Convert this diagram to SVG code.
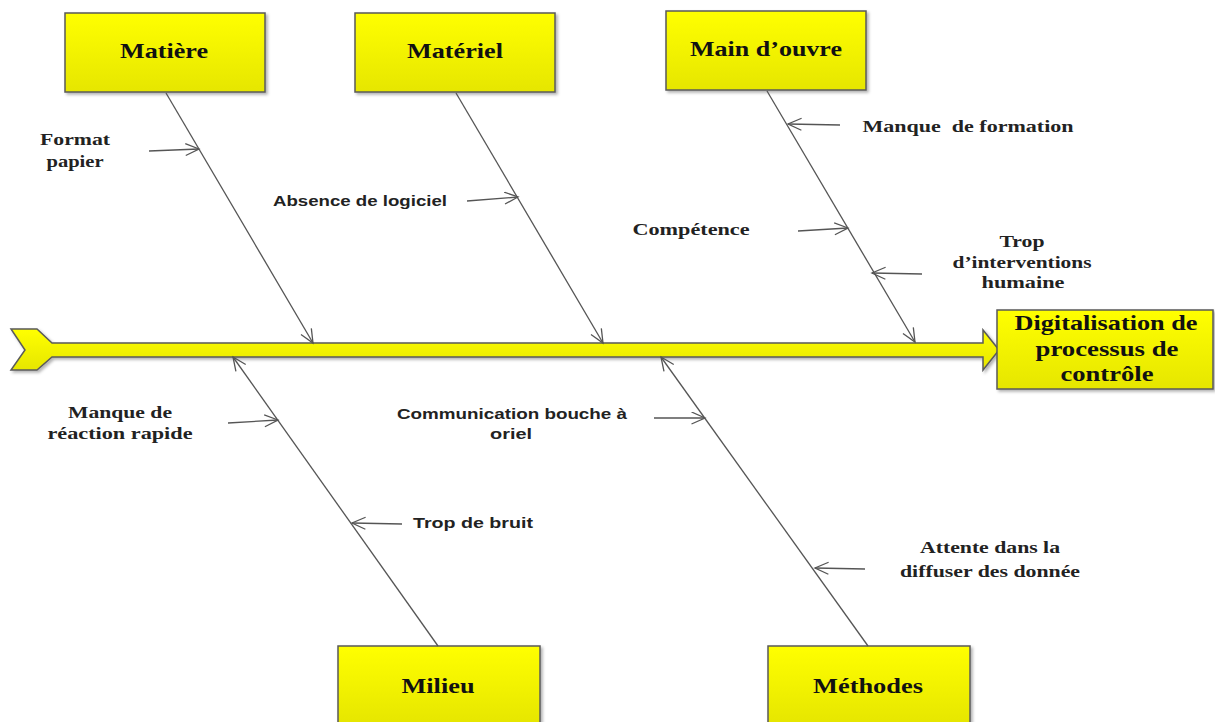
<svg xmlns="http://www.w3.org/2000/svg" width="1215" height="722" viewBox="0 0 1215 722">
<style>
.box{fill:url(#yg);stroke:#5a5a5a;stroke-width:1.5;filter:url(#sh)}
.lbl{font-family:"Liberation Serif","Times New Roman",serif;font-weight:bold;font-size:21px;fill:#111;text-anchor:middle}
.st{font-family:"Liberation Serif","Times New Roman",serif;font-weight:bold;font-size:16px;fill:#222;text-anchor:middle}
.ss{font-family:"Liberation Sans",Arial,sans-serif;font-weight:bold;font-size:15px;fill:#222;text-anchor:middle}
.bone{stroke:#555;stroke-width:1.3;fill:none;marker-end:url(#ah)}
.pre{white-space:pre}
</style>
<defs>
<linearGradient id="yg" x1="0" y1="0" x2="0" y2="1">
<stop offset="0" stop-color="#ffff00"/>
<stop offset="1" stop-color="#e6e600"/>
</linearGradient>
<filter id="sh" x="-10%" y="-10%" width="130%" height="140%">
<feDropShadow dx="2" dy="2" stdDeviation="1.5" flood-color="#000" flood-opacity="0.3"/>
</filter>
<marker id="ah" markerUnits="userSpaceOnUse" markerWidth="18" markerHeight="16" refX="14" refY="6.5" orient="auto">
<path d="M0.5,0.5 L14,6.5 L0.5,12.5" fill="none" stroke="#555" stroke-width="1.3"/>
</marker>
</defs>

<g id="spine">
<path class="box" d="M11,329 L37,329 L52,343 L983,343 L983,330 L999,350 L983,370 L983,357 L52,357 L37,370 L11,370 L25,350 Z"/>
</g>

<g id="effect">
<rect class="box" x="997" y="310" width="216" height="79"/>
<text class="lbl" x="1106" y="330" textLength="183" lengthAdjust="spacingAndGlyphs">Digitalisation de</text>
<text class="lbl" x="1107" y="356" textLength="143" lengthAdjust="spacingAndGlyphs">processus de</text>
<text class="lbl" x="1107" y="381" textLength="93" lengthAdjust="spacingAndGlyphs">contrôle</text>
</g>

<g id="matiere">
<rect class="box" x="65" y="13" width="200" height="79"/>
<text class="lbl" x="164" y="58" textLength="88" lengthAdjust="spacingAndGlyphs">Matière</text>
</g>
<g id="materiel">
<rect class="box" x="355" y="13" width="200" height="79"/>
<text class="lbl" x="455" y="58" textLength="96" lengthAdjust="spacingAndGlyphs">Matériel</text>
</g>
<g id="main-oeuvre">
<rect class="box" x="666" y="11" width="200" height="79"/>
<text class="lbl" x="766" y="56" textLength="152" lengthAdjust="spacingAndGlyphs">Main d’ouvre</text>
</g>
<g id="milieu">
<rect class="box" x="338" y="646" width="202" height="78"/>
<text class="lbl" x="438" y="693" textLength="73" lengthAdjust="spacingAndGlyphs">Milieu</text>
</g>
<g id="methodes">
<rect class="box" x="768" y="646" width="202" height="78"/>
<text class="lbl" x="868" y="693" textLength="110" lengthAdjust="spacingAndGlyphs">Méthodes</text>
</g>

<g id="connectors">
<line class="bone" x1="166" y1="93" x2="313" y2="343"/>
<line class="bone" x1="456" y1="93" x2="603" y2="343"/>
<line class="bone" x1="767" y1="91" x2="915" y2="342"/>
<line class="bone" x1="438" y1="646" x2="233" y2="357"/>
<line class="bone" x1="868" y1="646" x2="661" y2="357"/>
<line class="bone" x1="149" y1="151" x2="199" y2="149"/>
<line class="bone" x1="467" y1="201" x2="518" y2="197"/>
<line class="bone" x1="840" y1="125" x2="788" y2="124"/>
<line class="bone" x1="798" y1="231" x2="848" y2="228"/>
<line class="bone" x1="922" y1="274" x2="872" y2="273"/>
<line class="bone" x1="228" y1="423" x2="278" y2="420"/>
<line class="bone" x1="654" y1="418" x2="705" y2="418"/>
<line class="bone" x1="402" y1="524" x2="352" y2="523"/>
<line class="bone" x1="865" y1="569" x2="815" y2="568"/>
</g>

<g id="causes">
<text class="st" x="75" y="145" textLength="70" lengthAdjust="spacingAndGlyphs">Format</text>
<text class="st" x="75" y="167" textLength="57" lengthAdjust="spacingAndGlyphs">papier</text>
<text class="ss" x="360" y="206" textLength="174" lengthAdjust="spacingAndGlyphs">Absence de logiciel</text>
<text class="st pre" x="968" y="132" textLength="211" lengthAdjust="spacingAndGlyphs">Manque  de formation</text>
<text class="st" x="691" y="235" textLength="117" lengthAdjust="spacingAndGlyphs">Compétence</text>
<text class="st" x="1022" y="247" textLength="45" lengthAdjust="spacingAndGlyphs">Trop</text>
<text class="st" x="1022" y="268" textLength="139" lengthAdjust="spacingAndGlyphs">d’interventions</text>
<text class="st" x="1023" y="288" textLength="83" lengthAdjust="spacingAndGlyphs">humaine</text>
<text class="st" x="120" y="418" textLength="104" lengthAdjust="spacingAndGlyphs">Manque de</text>
<text class="st" x="120" y="439" textLength="145" lengthAdjust="spacingAndGlyphs">réaction rapide</text>
<text class="ss" x="512" y="419" textLength="230" lengthAdjust="spacingAndGlyphs">Communication bouche à</text>
<text class="ss" x="511" y="439" textLength="42" lengthAdjust="spacingAndGlyphs">oriel</text>
<text class="ss" x="473" y="528" textLength="120" lengthAdjust="spacingAndGlyphs">Trop de bruit</text>
<text class="st" x="990" y="553" textLength="140" lengthAdjust="spacingAndGlyphs">Attente dans la</text>
<text class="st" x="990" y="577" textLength="180" lengthAdjust="spacingAndGlyphs">diffuser des donnée</text>
</g>
</svg>
